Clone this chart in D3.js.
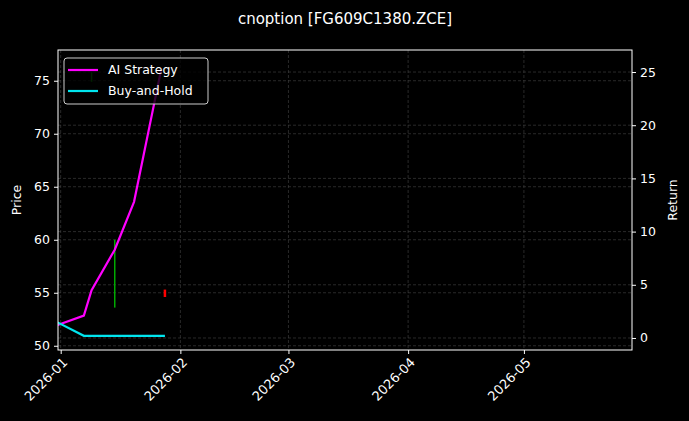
<!DOCTYPE html>
<html><head><meta charset="utf-8">
<script src="https://cdn.jsdelivr.net/npm/d3@7"></script>
<style>body{margin:0;background:#000}svg{font-family:"DejaVu Sans",sans-serif}</style>
</head><body><svg id="c" width="689" height="421"></svg>
<script>
const aiDates=["2025-12-31","2026-01-07","2026-01-09","2026-01-15","2026-01-20","2026-01-27"];
const aiValues=[1.2,2.1,4.5,8.3,12.8,25.2];
const bhDates=["2025-12-31","2026-01-07","2026-01-28"];
const bhValues=[1.5,0.2,0.2];
const candleDates=["2026-01-09","2026-01-15","2026-01-28"];
const candleLow=[74.9,53.6,54.6];
const candleHigh=[75.8,60,55.3];
const candleUp=[true,true,false];
const priceTicks=[50,55,60,65,70,75];
const returnTicks=[0,5,10,15,20,25];
const xTicks=["2026-01-01","2026-02-01","2026-03-01","2026-04-01","2026-05-01"];

const svg=d3.select("#c");
const L=58,R=632,T=50,B=350;
const p=d3.timeParse("%Y-%m-%d");
const x=d3.scaleTime().domain([p("2026-01-01").getTime()-0.7*864e5,p("2026-05-29")]).range([L,R]);
const yL=d3.scaleLinear().domain([49.6,77.9]).range([B,T]);
const yR=d3.scaleLinear().domain([-1.13,27.07]).range([B,T]);
const g=svg.append("g");
const grid=(y,t)=>g.selectAll(null).data(t).enter().append("line").attr("x1",L).attr("x2",R).attr("y1",d=>y(d)).attr("y2",d=>y(d)).attr("stroke","#444").attr("stroke-width",0.6).attr("stroke-dasharray","3,2");
grid(yL,priceTicks);grid(yR,returnTicks);
g.selectAll(null).data(xTicks).enter().append("line").attr("x1",d=>x(p(d))).attr("x2",d=>x(p(d))).attr("y1",T).attr("y2",B).attr("stroke","#444").attr("stroke-width",0.6).attr("stroke-dasharray","3,2");
svg.append("defs").append("clipPath").attr("id","cp").append("rect").attr("x",L).attr("y",T).attr("width",R-L).attr("height",B-T);
const pg=svg.append("g").attr("clip-path","url(#cp)");
pg.selectAll(null).data(candleDates).enter().append("line").attr("x1",d=>x(p(d))).attr("x2",d=>x(p(d))).attr("y1",(d,i)=>yL(candleLow[i])).attr("y2",(d,i)=>yL(candleHigh[i])).attr("stroke",(d,i)=>candleUp[i]?"#0a0":"#f00").attr("stroke-width",(d,i)=>candleUp[i]?1.5:2.5);
const line=d3.line().x(d=>x(p(d[0]))).y(d=>yR(d[1]));
pg.append("path").attr("d",line(aiDates.map((d,i)=>[d,aiValues[i]]))).attr("fill","none").attr("stroke","#ff00ff").attr("stroke-width",2.2);
pg.append("path").attr("d",line(bhDates.map((d,i)=>[d,bhValues[i]]))).attr("fill","none").attr("stroke","#00e5ee").attr("stroke-width",2.2);
svg.append("rect").attr("x",L).attr("y",T).attr("width",R-L).attr("height",B-T).attr("fill","none").attr("stroke","#fff").attr("stroke-width",1);
const ax=(a)=>a.call(s=>{s.select(".domain").remove();s.selectAll("line").attr("stroke","#fff");s.selectAll("text").attr("fill","#fff").style("font-size","12.5px").style("font-family","DejaVu Sans")});
svg.append("g").attr("transform",`translate(${L},0)`).call(d3.axisLeft(yL).tickValues(priceTicks).tickSize(4).tickPadding(4)).call(ax);
svg.append("g").attr("transform",`translate(${R},0)`).call(d3.axisRight(yR).tickValues(returnTicks).tickSize(4).tickPadding(4)).call(ax);
const xa=svg.append("g").attr("transform",`translate(0,${B})`).call(d3.axisBottom(x).tickValues(xTicks.map(p)).tickFormat(d3.timeFormat("%Y-%m")).tickSize(4)).call(ax);
xa.selectAll("text").style("font-size","13px").attr("text-anchor","end").attr("y",0).attr("transform","translate(4,10) rotate(-45)").attr("dy","0.35em").attr("dx","0");
svg.append("text").attr("x",345).attr("y",24).attr("text-anchor","middle").attr("fill","#fff").style("font-size","15px").text("cnoption [FG609C1380.ZCE]");
svg.append("text").attr("transform","translate(21,200) rotate(-90)").attr("text-anchor","middle").attr("fill","#fff").style("font-size","12.5px").text("Price");
svg.append("text").attr("transform","translate(677,200) rotate(-90)").attr("text-anchor","middle").attr("fill","#fff").style("font-size","12.5px").text("Return");
const lg=svg.append("g");
lg.append("rect").attr("x",64).attr("y",58).attr("width",144).attr("height",46).attr("rx",3).attr("fill","#000").attr("fill-opacity",0.8).attr("stroke","#ccc");
[["AI Strategy","#ff00ff"],["Buy-and-Hold","#00e5ee"]].forEach((d,i)=>{
 lg.append("line").attr("x1",68).attr("x2",98).attr("y1",70+i*21).attr("y2",70+i*21).attr("stroke",d[1]).attr("stroke-width",2.2);
 lg.append("text").attr("x",108).attr("y",70+i*21).attr("dy","0.35em").attr("fill","#fff").style("font-size","12.5px").text(d[0]);
});
</script></body></html>
